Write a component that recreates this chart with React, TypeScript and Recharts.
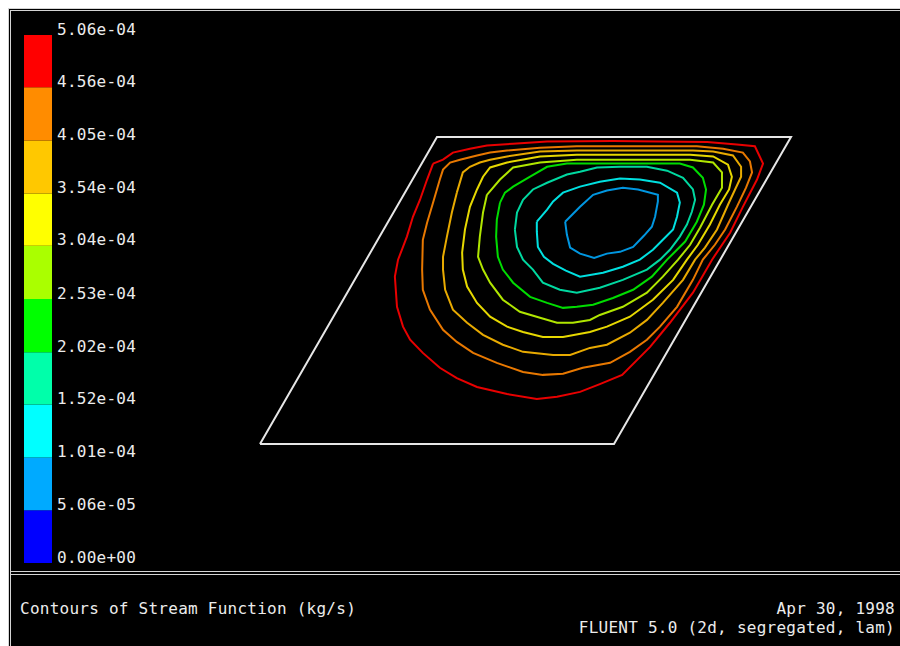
import React from "react";
import {
  BarChart,
  Bar,
  ScatterChart,
  Scatter,
  XAxis,
  YAxis,
} from "recharts";

// colour scale (bottom to top)
const levels = [0, 5.06e-5, 1.01e-4, 1.52e-4, 2.02e-4, 2.53e-4, 3.04e-4, 3.54e-4, 4.05e-4, 4.56e-4, 5.06e-4];
const levelLabels = [
  "0.00e+00", "5.06e-05", "1.01e-04", "1.52e-04", "2.02e-04", "2.53e-04",
  "3.04e-04", "3.54e-04", "4.05e-04", "4.56e-04", "5.06e-04",
];
const bandColors = [
  "#0000ff", "#00aaff", "#00ffff", "#00ffaa", "#00ff00",
  "#aaff00", "#ffff00", "#ffc800", "#ff8c00", "#ff0000",
];

// cavity outline (side = 1, 60 deg rhombus)
const boundary = [[0, 0], [1, 0], [1.5, 0.866], [0.5, 0.866], [0, 0]];

// stream function contours, outermost first
const cRed = [
  [0.489, 0.791], [0.517, 0.802], [0.545, 0.822], [0.593, 0.833], [0.641, 0.842], [0.715, 0.847], [0.811, 0.853],
  [0.997, 0.855], [1.263, 0.852], [1.347, 0.845], [1.398, 0.84], [1.421, 0.791], [1.404, 0.746], [1.364, 0.669],
  [1.328, 0.596], [1.277, 0.52], [1.223, 0.427], [1.158, 0.342], [1.102, 0.274], [1.023, 0.195], [0.96, 0.169],
  [0.904, 0.147], [0.839, 0.133], [0.782, 0.127], [0.698, 0.141], [0.613, 0.161], [0.556, 0.186], [0.508, 0.215],
  [0.46, 0.257], [0.424, 0.294], [0.404, 0.331], [0.387, 0.387], [0.381, 0.472], [0.39, 0.52], [0.401, 0.548],
  [0.415, 0.585], [0.432, 0.641], [0.452, 0.689], [0.472, 0.746], [0.489, 0.791],
];
const cOrange = [
  [0.508, 0.746], [0.517, 0.774], [0.537, 0.794], [0.565, 0.802], [0.613, 0.814], [0.65, 0.822], [0.698, 0.828],
  [0.791, 0.836], [0.895, 0.84], [1.234, 0.84], [1.308, 0.833], [1.364, 0.822], [1.384, 0.797], [1.39, 0.766],
  [1.373, 0.723], [1.347, 0.669], [1.314, 0.605], [1.285, 0.562], [1.251, 0.52], [1.223, 0.463], [1.178, 0.387],
  [1.13, 0.331], [1.093, 0.294], [1.045, 0.26], [0.989, 0.229], [0.912, 0.215], [0.856, 0.198], [0.799, 0.195],
  [0.743, 0.203], [0.669, 0.229], [0.602, 0.257], [0.556, 0.288], [0.517, 0.322], [0.48, 0.379], [0.46, 0.435],
  [0.458, 0.492], [0.46, 0.576], [0.472, 0.624], [0.489, 0.681], [0.508, 0.746],
];
const cAmber = [
  [0.556, 0.709], [0.573, 0.766], [0.593, 0.782], [0.621, 0.794], [0.65, 0.802], [0.698, 0.811], [0.791, 0.825],
  [0.895, 0.828], [1.223, 0.828], [1.28, 0.825], [1.336, 0.814], [1.359, 0.782], [1.359, 0.754], [1.342, 0.718],
  [1.322, 0.675], [1.291, 0.605], [1.257, 0.554], [1.229, 0.52], [1.195, 0.463], [1.138, 0.398], [1.093, 0.35],
  [1.045, 0.314], [0.98, 0.28], [0.932, 0.271], [0.876, 0.251], [0.828, 0.251], [0.743, 0.26], [0.686, 0.28],
  [0.63, 0.308], [0.585, 0.342], [0.545, 0.379], [0.523, 0.435], [0.517, 0.492], [0.517, 0.528], [0.528, 0.585],
  [0.542, 0.653], [0.556, 0.709],
];
const cYellow = [
  [0.613, 0.718], [0.63, 0.754], [0.65, 0.78], [0.698, 0.794], [0.791, 0.811], [0.895, 0.816], [1.215, 0.816],
  [1.28, 0.811], [1.322, 0.788], [1.333, 0.754], [1.325, 0.718], [1.299, 0.675], [1.271, 0.619], [1.237, 0.562],
  [1.206, 0.52], [1.167, 0.463], [1.11, 0.407], [1.045, 0.359], [0.98, 0.331], [0.932, 0.316], [0.856, 0.302],
  [0.799, 0.302], [0.743, 0.316], [0.698, 0.331], [0.65, 0.359], [0.613, 0.398], [0.585, 0.444], [0.573, 0.492],
  [0.571, 0.54], [0.579, 0.605], [0.593, 0.669], [0.613, 0.718],
];
const cYellowGreen = [
  [0.641, 0.703], [0.678, 0.746], [0.715, 0.78], [0.791, 0.794], [0.895, 0.802], [1.215, 0.802], [1.28, 0.794],
  [1.305, 0.766], [1.305, 0.723], [1.277, 0.675], [1.243, 0.61], [1.215, 0.562], [1.181, 0.52], [1.138, 0.472],
  [1.093, 0.427], [1.025, 0.387], [0.96, 0.364], [0.932, 0.35], [0.884, 0.342], [0.839, 0.342], [0.791, 0.356],
  [0.734, 0.373], [0.686, 0.407], [0.65, 0.455], [0.63, 0.492], [0.616, 0.528], [0.621, 0.585], [0.63, 0.653],
  [0.641, 0.703],
];
const cGreen = [
  [0.678, 0.681], [0.692, 0.709], [0.715, 0.726], [0.763, 0.754], [0.811, 0.782], [0.867, 0.791], [0.932, 0.791],
  [1.186, 0.791], [1.223, 0.78], [1.251, 0.751], [1.26, 0.718], [1.254, 0.675], [1.234, 0.627], [1.201, 0.571],
  [1.15, 0.52], [1.107, 0.472], [1.054, 0.435], [0.997, 0.412], [0.941, 0.393], [0.895, 0.387], [0.856, 0.384],
  [0.811, 0.398], [0.763, 0.415], [0.715, 0.455], [0.686, 0.492], [0.672, 0.528], [0.667, 0.585], [0.669, 0.633],
  [0.678, 0.681],
];
const cTeal = [
  [0.72, 0.605], [0.726, 0.556], [0.743, 0.52], [0.771, 0.492], [0.799, 0.455], [0.847, 0.435], [0.895, 0.427],
  [0.96, 0.441], [1.025, 0.463], [1.093, 0.492], [1.13, 0.52], [1.158, 0.548], [1.186, 0.585], [1.206, 0.619],
  [1.22, 0.655], [1.229, 0.689], [1.223, 0.718], [1.195, 0.751], [1.15, 0.771], [1.093, 0.782], [1.017, 0.782],
  [0.952, 0.78], [0.904, 0.768], [0.867, 0.76], [0.811, 0.737], [0.771, 0.718], [0.743, 0.689], [0.726, 0.653],
  [0.72, 0.605],
];
const cCyan = [
  [0.782, 0.627], [0.782, 0.599], [0.785, 0.556], [0.802, 0.528], [0.828, 0.508], [0.864, 0.489], [0.904, 0.472],
  [0.969, 0.483], [1.025, 0.5], [1.073, 0.52], [1.11, 0.548], [1.138, 0.576], [1.167, 0.605], [1.178, 0.641],
  [1.186, 0.681], [1.178, 0.709], [1.13, 0.737], [1.073, 0.746], [1.017, 0.749], [0.96, 0.74], [0.904, 0.726],
  [0.856, 0.709], [0.828, 0.684], [0.811, 0.661], [0.782, 0.627],
];
const cBlue = [
  [0.862, 0.627], [0.867, 0.59], [0.876, 0.554], [0.904, 0.537], [0.944, 0.525], [0.98, 0.537], [1.017, 0.542],
  [1.054, 0.556], [1.085, 0.588], [1.107, 0.613], [1.116, 0.641], [1.124, 0.684], [1.124, 0.703], [1.068, 0.718],
  [1.025, 0.723], [0.98, 0.715], [0.941, 0.703], [0.904, 0.669], [0.862, 0.627],
];

const contours = [cRed, cOrange, cAmber, cYellow, cYellowGreen, cGreen, cTeal, cCyan, cBlue];
const contourColors = [
  "#e80000", "#e87800", "#e8aa00", "#e6d800", "#b0e600",
  "#00dc00", "#00d8a0", "#00e0e0", "#0096e0",
];

const MONO = "'DejaVu Sans Mono', monospace";
const FG = "#ececec";

const noDot = () => <g />;
const toPts = (arr: number[][]) => arr.map(([x, y]) => ({ x, y }));

const scaleRow: Record<string, number | string> = { name: "scale" };
levels.slice(1).forEach((v, i) => {
  scaleRow[`b${i}`] = v - levels[i];
});

const textStyle: React.CSSProperties = {
  position: "absolute",
  fontFamily: MONO,
  fontSize: 16,
  lineHeight: "16px",
  color: FG,
  letterSpacing: 0.25,
  whiteSpace: "pre",
};

export default function App() {
  return (
    <div
      style={{
        position: "absolute",
        left: 8,
        top: 8,
        width: 892,
        height: 638,
        background: "#000",
        boxSizing: "border-box",
        borderTop: "3px double #d4d4d4",
        borderLeft: "3px double #d4d4d4",
        overflow: "hidden",
      }}
    >
      {/* colour bar */}
      <div style={{ position: "absolute", left: 13, top: 4 }}>
        <BarChart
          width={150}
          height={558}
          data={[scaleRow]}
          margin={{ top: 20, right: 0, bottom: 10, left: 0 }}
          barCategoryGap={0}
        >
          <XAxis dataKey="name" hide />
          <YAxis
            orientation="right"
            width={122}
            type="number"
            domain={[0, levels[levels.length - 1]]}
            ticks={levels}
            interval={0}
            axisLine={false}
            tickLine={false}
            tickSize={0}
            tickMargin={5}
            tickFormatter={(_v: number, i: number) => levelLabels[i]}
            tick={{ fill: FG, fontFamily: MONO, fontSize: 16, dy: -6, letterSpacing: 0.25 }}
          />
          {bandColors.map((c, i) => (
            <Bar key={i} dataKey={`b${i}`} stackId="s" fill={c} isAnimationActive={false} />
          ))}
        </BarChart>
      </div>

      {/* contour plot */}
      <div style={{ position: "absolute", left: 244, top: 121 }}>
        <ScatterChart width={541} height={317} margin={{ top: 5, right: 5, bottom: 5, left: 5 }}>
          <XAxis type="number" dataKey="x" domain={[0, 1.5]} hide />
          <YAxis type="number" dataKey="y" domain={[0, 0.866]} hide />
          <Scatter
            data={toPts(boundary)}
            line={{ stroke: "#e6e6e6", strokeWidth: 2 }}
            shape={noDot}
            isAnimationActive={false}
          />
          {contours.map((c, i) => (
            <Scatter
              key={i}
              data={toPts(c)}
              line={{ stroke: contourColors[i], strokeWidth: 2 }}
              shape={noDot}
              isAnimationActive={false}
            />
          ))}
        </ScatterChart>
      </div>

      {/* separator */}
      <div
        style={{
          position: "absolute",
          left: 0,
          top: 560,
          width: 900,
          height: 0,
          borderTop: "4px double #d4d4d4",
        }}
      />

      <div style={{ ...textStyle, left: 9, top: 590 }}>Contours of Stream Function (kg/s)</div>
      <div style={{ ...textStyle, right: 5, top: 590, textAlign: "right" }}>Apr 30, 1998</div>
      <div style={{ ...textStyle, right: 5, top: 609, textAlign: "right" }}>
        FLUENT 5.0 (2d, segregated, lam)
      </div>
    </div>
  );
}
